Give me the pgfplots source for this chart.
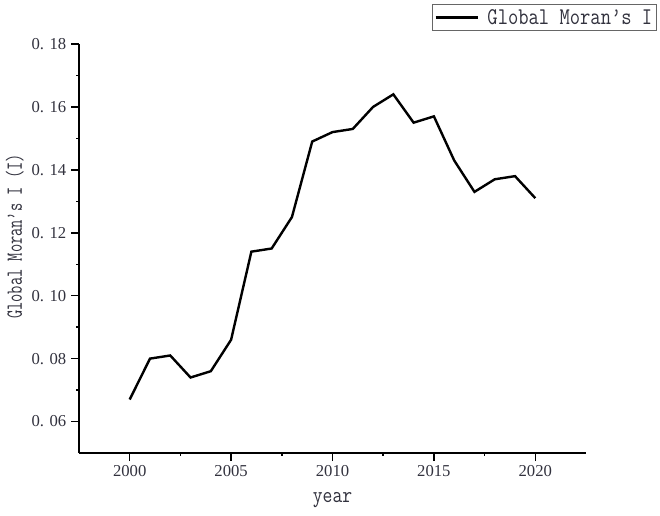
\documentclass[border=0pt]{standalone}
\usepackage{fontspec}
\setmainfont{Liberation Serif}
\usepackage{pgfplots}
\pgfplotsset{compat=1.18}
\definecolor{tickcol}{RGB}{50,50,62}
\newcommand{\tall}[1]{\scalebox{1}[1.2]{#1}}
\begin{document}
\begin{tikzpicture}
\begin{axis}[
  scale only axis, width=380.25pt, height=306.75pt,
  xmin=1997.5, xmax=2022.5, ymin=0.05, ymax=0.18,
  axis x line*=bottom, axis y line*=left,
  axis line style={line width=1.1pt,-},
  xtick={2000,2005,2010,2015,2020},
  xticklabels={2000,2005,2010,2015,2020},
  ytick={0.06,0.08,0.10,0.12,0.14,0.16,0.18},
  yticklabels={0. 06,0. 08,0. 10,0. 12,0. 14,0. 16,0. 18},
  minor tick num=1,
  tick align=outside,
  major tick length=6pt, minor tick length=2.2pt,
  tick style={line width=1.1pt, black},
  ticklabel style={font=\fontsize{12.5}{14}\selectfont, text=tickcol},
  xlabel={\tall{year}}, ylabel={\scalebox{1}[1.45]{Global Moran’s I (I)}},
  xlabel style={font=\ttfamily\fontsize{14.3}{15}\selectfont, text=tickcol, yshift=-5pt},
  ylabel style={font=\ttfamily\fontsize{12}{15}\selectfont, text=tickcol, yshift=-1pt, xshift=9pt},
  legend style={at={(axis description cs:0.696,1.098)}, anchor=north west,
    draw=black!60, line width=0.8pt, font=\ttfamily\fontsize{15}{15}\selectfont,
    text=tickcol, inner xsep=1.5pt, inner ysep=1.5pt},
  legend image code/.code={\draw[#1, line width=1.8pt] (0pt,0pt) -- (32pt,0pt);},
  legend cell align=left,
]
\addplot[black, line width=1.8pt] coordinates {
(2000,0.067) (2001,0.080) (2002,0.081) (2003,0.074) (2004,0.076)
(2005,0.086) (2006,0.114) (2007,0.115) (2008,0.125) (2009,0.149)
(2010,0.152) (2011,0.153) (2012,0.160) (2013,0.164) (2014,0.155)
(2015,0.157) (2016,0.143) (2017,0.133) (2018,0.137) (2019,0.138)
(2020,0.131)};
\addlegendentry{\hspace{4pt}\tall{Global Moran’s I}}
\end{axis}
\pgfresetboundingbox
\path (current axis.origin) ++(-59.25pt,-46.5pt) rectangle ++(495pt,386.25pt);
\end{tikzpicture}
\end{document}
